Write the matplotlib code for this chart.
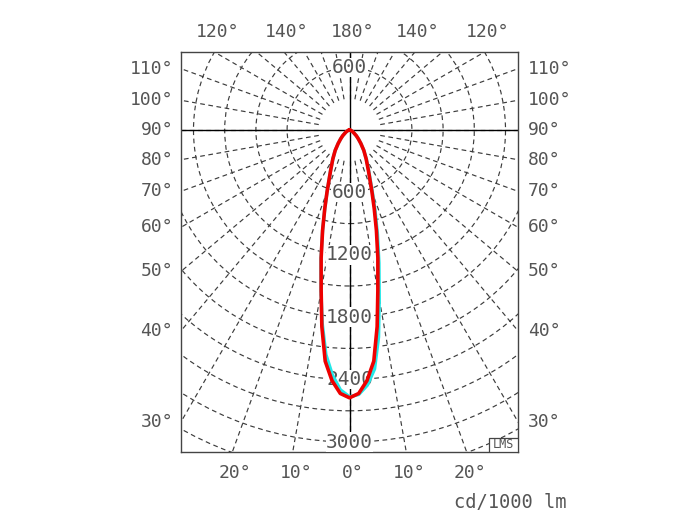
import numpy as np
import matplotlib
matplotlib.use("Agg")
import matplotlib.pyplot as plt
from matplotlib.patches import Circle, Rectangle

# ---------------- data (cd/1000lm) ----------------
gamma_deg = [0, 2, 4, 6, 8, 10, 12.5, 15, 17.5, 20, 25, 30, 35, 40, 45, 50, 60, 70, 80, 90]
c0_c180 = [2575, 2535, 2415, 2235, 1910, 1570, 1260, 1000, 790, 630, 430, 320, 240, 170, 120, 85, 40, 18, 6, 0]
c90_right = [2565, 2545, 2460, 2310, 2010, 1650, 1310, 1040, 820, 650, 440, 325, 240, 170, 120, 85, 40, 18, 6, 0]
c270_left = [2565, 2500, 2360, 2170, 1880, 1580, 1270, 1000, 790, 630, 430, 320, 240, 170, 120, 85, 40, 18, 6, 0]

ring_labels_down = [600, 1200, 1800, 2400, 3000]
ring_label_up = [600]
side_angles = [30, 40, 50, 60, 70, 80, 90, 100, 110]
top_angles = [-120, -140, 180, 140, 120]
bottom_angles = [-20, -10, 0, 10, 20]
unit_label = "cd/1000 lm"
logo = "LMS"

# ---------------- layout ----------------
W, H = 700, 525
L, T, R, B = 181, 52, 518, 452
CX, CY = 349.5, 130
S = 0.104  # px per cd

xmin, xmax = (L - CX) / S, (R - CX) / S
ymin, ymax = -(B - CY) / S, (CY - T) / S

fig = plt.figure(figsize=(W / 100, H / 100), dpi=100)
ax = fig.add_axes([L / W, (H - B) / H, (R - L) / W, (B - T) / H])
ax.set_xlim(xmin, xmax)
ax.set_ylim(ymin, ymax)
ax.set_xticks([])
ax.set_yticks([])
for sp in ax.spines.values():
    sp.set_color("#444444")
    sp.set_linewidth(1.0)

grid_kw = dict(color="#3c3c3c", lw=0.85, linestyle=(0, (4, 3)))
# rings
for r in np.arange(600, 3601, 300):
    ax.add_patch(Circle((0, 0), r, fill=False, zorder=1, **grid_kw))
# radial lines
for a in range(0, 360, 10):
    t = np.deg2rad(a)
    ax.plot([300 * np.sin(t), 5000 * np.sin(t)], [-300 * np.cos(t), -5000 * np.cos(t)],
            zorder=1, **grid_kw)

# solid axes
ax.axhline(0, color="black", lw=1.0, zorder=2)
ax.plot([0, 0], [ymax, -3000], color="black", lw=1.0, zorder=2)

txt_color = "#555555"
mono = "DejaVu Sans Mono"

# ring labels
for v in ring_labels_down:
    ax.text(0, -v, str(v), ha="center", va="center", fontsize=14, family=mono,
            color=txt_color, zorder=3,
            bbox=dict(facecolor="white", edgecolor="none", pad=0.3))
for v in ring_label_up:
    ax.text(0, v, str(v), ha="center", va="center", fontsize=14, family=mono,
            color=txt_color, zorder=3,
            bbox=dict(facecolor="white", edgecolor="none", pad=0.3))

# intensity curves
def curve(right_vals, left_vals):
    g = np.deg2rad(np.array(gamma_deg))
    rv = np.array(right_vals, float)
    lv = np.array(left_vals, float)
    xr, yr = rv * np.sin(g), -rv * np.cos(g)
    xl, yl = -lv * np.sin(g), -lv * np.cos(g)
    x = np.concatenate([xl[::-1], xr[1:]])
    y = np.concatenate([yl[::-1], yr[1:]])
    return x, y

xc, yc = curve(c90_right, c270_left)
ax.plot(xc, yc, color="#22e8e8", lw=2.4, zorder=4, solid_joinstyle="round")
xr_, yr_ = curve(c0_c180, c0_c180)
ax.plot(xr_, yr_, color="#ee0000", lw=2.6, zorder=5, solid_joinstyle="round")

fs = 13
# left / right labels
for a in side_angles:
    t = np.deg2rad(a)
    yl = -(-xmin) * np.cos(t) / np.sin(t)
    ax.annotate(f"{a}°", (xmin, yl), xytext=(-8, 0), textcoords="offset pixels",
                ha="right", va="center", fontsize=fs, family=mono, color=txt_color,
                annotation_clip=False)
    yr = -xmax * np.cos(t) / np.sin(t)
    ax.annotate(f"{a}°", (xmax, yr), xytext=(10, 0), textcoords="offset pixels",
                ha="left", va="center", fontsize=fs, family=mono, color=txt_color,
                annotation_clip=False)

# top labels
for a in top_angles:
    t = np.deg2rad(a)
    x = ymax / (-np.cos(t)) * np.sin(t)
    ax.annotate(f"{abs(a)}°", (x, ymax), xytext=(3, 20), textcoords="offset pixels",
                ha="center", va="center", fontsize=fs, family=mono, color=txt_color,
                annotation_clip=False)

# bottom labels
for a in bottom_angles:
    t = np.deg2rad(a)
    x = (-ymin) / np.cos(t) * np.sin(t)
    ax.annotate(f"{abs(a)}°", (x, ymin), xytext=(3, -21), textcoords="offset pixels",
                ha="center", va="center", fontsize=fs, family=mono, color=txt_color,
                annotation_clip=False)

fig.text(567 / W, 1 - 502 / H, unit_label, ha="right", va="center", fontsize=fs + 0.5,
         family=mono, color=txt_color)

# LMS box
bx0, by0, bx1, by1 = 489, 437.5, 518, 452
ax.add_patch(Rectangle(((bx0 - CX) / S, -(by1 - CY) / S), (bx1 - bx0) / S, (by1 - by0) / S,
                       facecolor="white", edgecolor="#444444", lw=0.9, zorder=6))
ax.text(((bx0 + bx1) / 2 - CX) / S, -((by0 + by1) / 2 - CY) / S, logo, ha="center",
        va="center", fontsize=8.5, family=mono, color=txt_color, zorder=7)

fig.savefig("out.png", dpi=100)
